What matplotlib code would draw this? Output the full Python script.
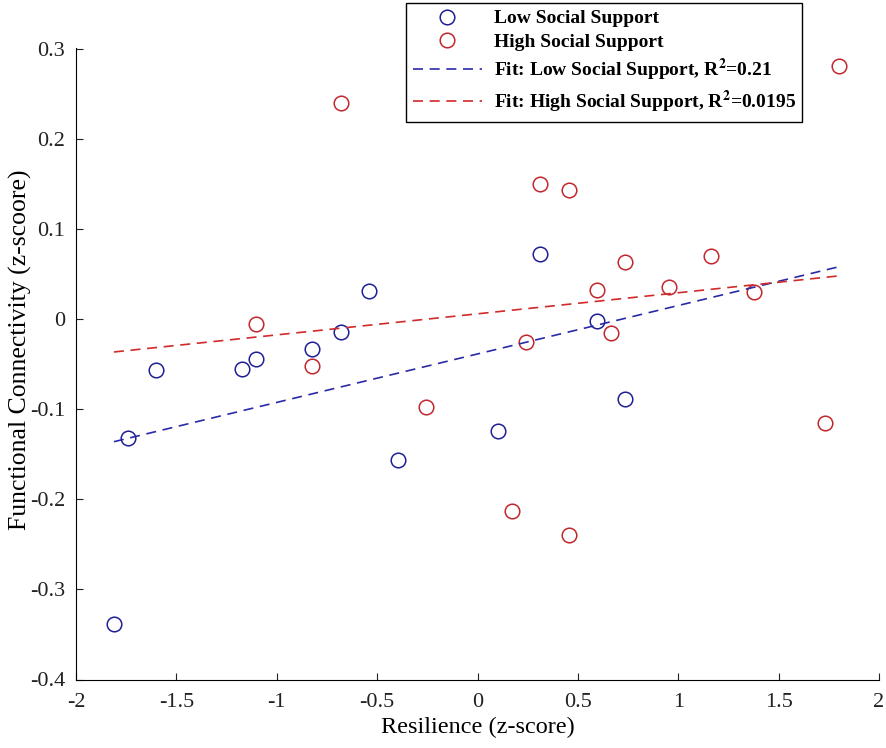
import numpy as np
import matplotlib
matplotlib.use('Agg')
import matplotlib.pyplot as plt

# values
low_x = [-1.811, -1.742, -1.601, -1.175, -1.105, -0.823, -0.680, -0.539,
         -0.398, 0.101, 0.313, 0.595, 0.737]
low_y = [-0.338, -0.132, -0.0565, -0.0554, -0.044, -0.0329, -0.0144, 0.031,
         -0.157, -0.124, 0.0724, -0.0025, -0.0887]
high_x = [-0.678, -1.105, -0.823, -0.257, 0.242, 0.172, 0.313, 0.456, 0.456,
          0.595, 0.667, 0.736, 0.952, 1.163, 1.376, 1.733, 1.802]
high_y = [0.2395, -0.0059, -0.0521, -0.0972, -0.0258, -0.2129, 0.1497, 0.1433,
          -0.2398, 0.0318, -0.0159, 0.0629, 0.0355, 0.0702, 0.0296, -0.115, 0.2808]
r2_low = '0.21'
r2_high = '0.0195'

plt.rcParams['font.family'] = ['Liberation Serif', 'DejaVu Serif']
plt.rcParams['mathtext.fontset'] = 'stix'

blue = '#1f1f96'
red = '#c1272d'

fig = plt.figure(figsize=(8.86, 7.48), dpi=100)
ax = fig.add_axes([76/886, 1-679.5/748, 803/886, 631/748])

ax.plot(low_x, low_y, 'o', mfc='none', mec=blue, ms=10.5, mew=1.1,
        label='Low Social Support')
ax.plot(high_x, high_y, 'o', mfc='none', mec=red, ms=10.5, mew=1.1,
        label='High Social Support')

# least squares fits over the full x range of the data
xs = np.array([min(low_x + high_x), max(low_x + high_x)])
p_low = np.polyfit(low_x, low_y, 1)
p_high = np.polyfit(high_x, high_y, 1)
ax.plot(xs, np.polyval(p_low, xs), '--', color='#2a2aa8', lw=1.2, dashes=(6, 4),
        label=r'Fit: Low Social Support, R$^{\mathbf{2}}$=' + r2_low)
ax.plot(xs, np.polyval(p_high, xs), '--', color='#d02a2a', lw=1.2, dashes=(6, 4),
        label=r'Fit: High Social Support, R$^{\mathbf{2}}$=' + r2_high)

ax.set_xlim(-2, 2)
ax.set_ylim(-0.4, 0.3)
ax.set_xticks(np.arange(-2, 2.01, 0.5))
ax.set_yticks(np.arange(-0.4, 0.31, 0.1))
ax.set_xticklabels(['-2', '-1.5', '-1', '-0.5', '0', '0.5', '1', '1.5', '2'])
ax.set_yticklabels(['-0.4', '-0.3', '-0.2', '-0.1', '0', '0.1', '0.2', '0.3'])
ax.spines['top'].set_visible(False)
ax.spines['right'].set_visible(False)
ax.tick_params(direction='in', length=5, labelsize=16, colors='#222222')
ax.tick_params(axis='x', pad=10)
ax.tick_params(axis='y', pad=8)
ax.set_xlabel('Resilience (z-score)', fontsize=17.5, labelpad=3)
ax.set_ylabel('Functional Connectivity (z-scoore)', fontsize=18.5)
ax.yaxis.set_label_coords(-0.055, 0.522)

leg = ax.legend(loc='upper left', bbox_to_anchor=(406/886, 1-3/748),
                bbox_transform=fig.transFigure, fancybox=False, framealpha=1,
                edgecolor='black', handlelength=3.55, handletextpad=0.6,
                borderpad=0.35, borderaxespad=0, labelspacing=0.3,
                prop={'weight': 'bold', 'size': 14})
leg.get_frame().set_linewidth(1.0)

fig.savefig('out.png', dpi=100)
